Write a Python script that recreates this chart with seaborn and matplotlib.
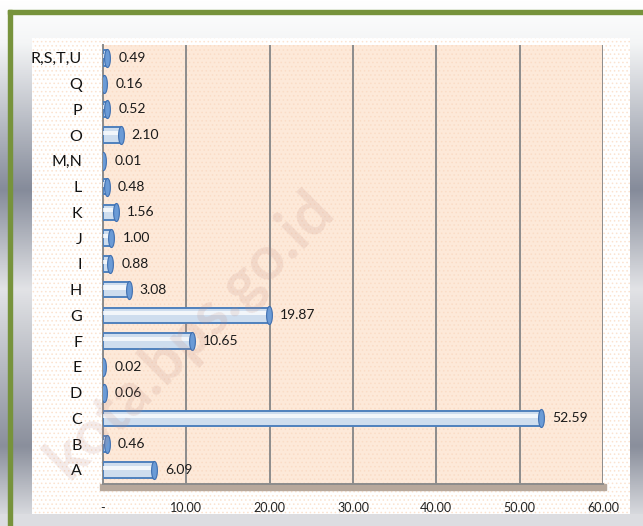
import numpy as np
import pandas as pd
import matplotlib
matplotlib.use("Agg")
import matplotlib.pyplot as plt
import seaborn as sns
from matplotlib.patches import Rectangle
from matplotlib.colors import LinearSegmentedColormap
from matplotlib.path import Path

categories = ["R,S,T,U", "Q", "P", "O", "M,N", "L", "K", "J", "I", "H",
              "G", "F", "E", "D", "C", "B", "A"]
values = [0.49, 0.16, 0.52, 2.10, 0.01, 0.48, 1.56, 1.00, 0.88, 3.08,
          19.87, 10.65, 0.02, 0.06, 52.59, 0.46, 6.09]
value_labels = ["0.49", "0.16", "0.52", "2.10", "0.01", "0.48", "1.56", "1.00", "0.88", "3.08",
                "19.87", "10.65", "0.02", "0.06", "52.59", "0.46", "6.09"]
xticks = [0, 10, 20, 30, 40, 50, 60]
xtick_labels = ["-", "10.00", "20.00", "30.00", "40.00", "50.00", "60.00"]

sns.set_theme(style="white")
plt.rcParams['font.family'] = ['Lato', 'DejaVu Sans']
plt.rcParams['hatch.linewidth'] = 0.6

W, H = 643, 526
fig = plt.figure(figsize=(W / 100, H / 100), dpi=100)

# background gradient
bg = fig.add_axes([0, 0, 1, 1], zorder=-10)
bg.set_axis_off()
cmap = LinearSegmentedColormap.from_list("bg", [(0, "#ffffff"), (0.08, "#f4f5f6"),
                                                (0.36, "#858b9a"), (0.55, "#e2e3e6"),
                                                (0.85, "#8a8f9c"), (1.0, "#e4e5e8")])
grad = np.linspace(0, 1, 256).reshape(-1, 1)
bg.imshow(grad, aspect="auto", cmap=cmap, extent=[0, 1, 0, 1], origin="upper")
bg.set_xlim(0, 1)
bg.set_ylim(0, 1)
bg.add_patch(Rectangle((0, 0), 1, 1 - 514 / H, color="#dcdde1", zorder=1))
# chart area (white, faint dots)
bg.add_patch(Rectangle((32 / W, 1 - 514 / H), (630 - 32) / W, (514 - 38) / H,
                       facecolor="white", edgecolor="none", zorder=2))
bg.add_patch(Rectangle((32 / W, 1 - 514 / H), (630 - 32) / W, (514 - 38) / H,
                       facecolor="none", edgecolor="#fbe3d0", hatch="....", lw=0, zorder=3))
# green frame
bg.add_patch(Rectangle((8 / W, 0), 4 / W, 1 - 10 / H, color="#77933c", zorder=4))
bg.add_patch(Rectangle((8 / W, 1 - 14 / H), 1, 4 / H, color="#77933c", zorder=4))
# 3D floor strip
bg.add_patch(Rectangle((100 / W, 1 - 490 / H), (606 - 100) / W, 6 / H,
                       color="#b7a89c", zorder=5))

ax = fig.add_axes([103 / W, 1 - 484 / H, 500 / W, (484 - 45) / H])
ax.set_facecolor("#fde9d9")
ax.add_patch(Rectangle((0, 0), 1, 1, transform=ax.transAxes, facecolor="none",
                       edgecolor="#fadcc6", hatch="....", lw=0, zorder=0))

df = pd.DataFrame({"cat": categories, "val": values})
sns.barplot(data=df, y="cat", x="val", order=categories, orient="h", ax=ax,
            color="#c9dcf3", edgecolor="#4f81bd", linewidth=1.4, width=0.6, zorder=3)

# highlight stripe on bars for cylinder look
for i, v in enumerate(values):
    ax.barh(i - 0.08, v, height=0.16, color="white", alpha=0.75, zorder=4, lw=0)

# elliptical end caps
t = np.linspace(0, 2 * np.pi, 40)
ell = Path(np.column_stack([0.32 * np.cos(t), np.sin(t)]), closed=True)
ax.plot(values, range(len(values)), ls="none", marker=ell, markersize=13,
        markerfacecolor="#6b9bd6", markeredgecolor="#3f6fb0", markeredgewidth=0.8, zorder=5)

for i, (v, lab) in enumerate(zip(values, value_labels)):
    ax.annotate(lab, (v, i), xytext=(8, 0), textcoords="offset points",
                va="center", ha="left", fontsize=10, color="#1a1a1a", zorder=6)

ax.set_xlim(0, 60)
ax.set_ylim(16.55, -0.4)
ax.set_xticks(xticks)
ax.set_xticklabels(xtick_labels, fontsize=9, color="#222222")
ax.set_yticks(range(len(categories)))
ax.set_yticklabels(categories, fontsize=11.5, color="#111111")
ax.set_yticks(np.arange(-0.5, 16.6, 1), minor=True)
ax.tick_params(axis="y", which="major", length=0, pad=15)
ax.tick_params(axis="y", which="minor", length=5, color="#7f7f7f", width=1.2, direction="out")
ax.tick_params(axis="x", which="major", length=5, color="#7f7f7f", width=1.2, direction="out", pad=8)
ax.set_xlabel("")
ax.set_ylabel("")
ax.grid(axis="x", color="#8c8c8c", lw=1.4, zorder=1)
ax.set_axisbelow(True)
for s in ["top", "right"]:
    ax.spines[s].set_visible(False)
ax.spines["left"].set_color("#8c8c8c")
ax.spines["left"].set_linewidth(1.4)
ax.spines["bottom"].set_color("#8c8c8c")
ax.spines["bottom"].set_linewidth(1.4)

# watermark
fig.text(190 / W, 1 - 335 / H, "kota.bps.go.id", rotation=45, fontsize=44,
         fontweight="bold", color="#c08a80", alpha=0.17, ha="center", va="center", zorder=20)

fig.savefig("out.png", dpi=100)
